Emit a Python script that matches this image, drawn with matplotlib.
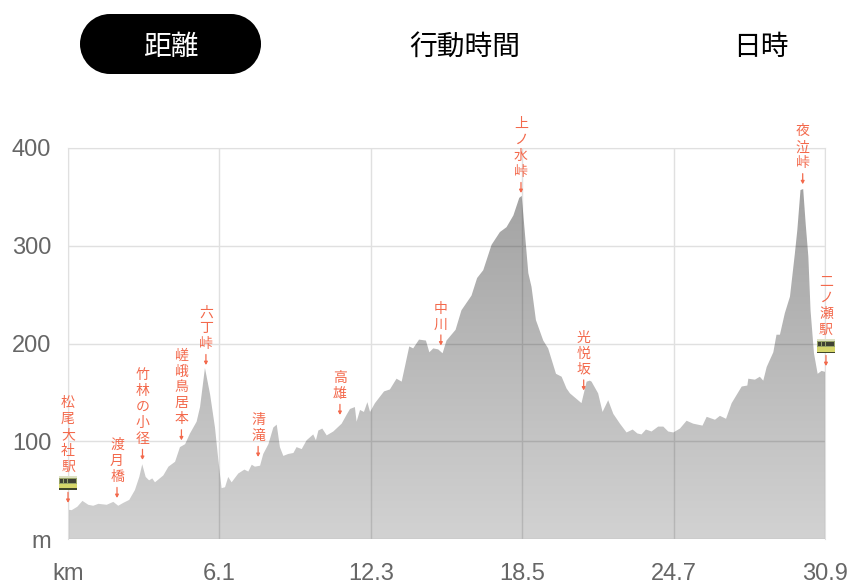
import numpy as np
import matplotlib
matplotlib.use("Agg")
import matplotlib.pyplot as plt
from matplotlib.patches import Rectangle, Circle, FancyBboxPatch
from matplotlib.offsetbox import AnnotationBbox, DrawingArea

distance_km = [0, .15, .38, .59, .83, 1.03, 1.24, 1.58, 1.85, 2.05, 2.26, 2.5, 2.73, 2.91, 3.03, 3.17, 3.31, 3.44,
               3.55, 3.89, 4.10, 4.37, 4.57, 4.78, 4.98, 5.25, 5.39, 5.59, 5.80, 6.0, 6.14, 6.27, 6.41, 6.54, 6.68,
               6.95, 7.2, 7.36, 7.5, 7.63, 7.84, 7.97, 8.18, 8.38, 8.52, 8.65, 8.79, 8.99, 9.2, 9.33, 9.54, 9.74,
               10.01, 10.12, 10.22, 10.38, 10.56, 10.83, 11.17, 11.37, 11.51, 11.71, 11.78, 11.92, 12.08, 12.22,
               12.33, 12.53, 12.9, 13.14, 13.41, 13.62, 13.75, 13.93, 14.09, 14.33, 14.61, 14.75, 14.91, 15.11,
               15.29, 15.45, 15.82, 16.06, 16.47, 16.7, 16.95, 17.29, 17.63, 17.9, 18.18, 18.42, 18.52, 18.65,
               18.79, 18.92, 19.1, 19.4, 19.6, 19.92, 20.15, 20.35, 20.49, 20.96, 21.17, 21.3, 21.37, 21.64, 21.82,
               22.05, 22.26, 22.53, 22.8, 23.05, 23.24, 23.41, 23.59, 23.82, 24.09, 24.3, 24.5, 24.71, 24.98, 25.25,
               25.52, 25.9, 26.07, 26.41, 26.61, 26.86, 27.09, 27.5, 27.73, 27.77, 28.04, 28.24, 28.38, 28.52,
               28.79, 28.92, 29.06, 29.26, 29.47, 29.67, 29.77, 29.9, 30.01, 30.11, 30.22, 30.31, 30.45, 30.6,
               30.76, 30.9]
elevation_m = [30, 29.5, 33, 39, 35, 34, 36, 35, 38, 34, 37, 40, 50, 63.5, 76.5, 63.5, 60, 62,
               58, 65, 74, 79, 94, 97, 108, 120, 135, 175, 148, 114, 80, 52, 53, 63.5, 58,
               67, 71, 69, 76, 74, 75, 87, 97, 114, 117, 94, 85, 87, 88, 94, 92, 101,
               107, 101, 111, 113, 106, 110, 118, 127, 133, 135, 120, 132, 130, 140,
               130, 139, 151, 153, 164, 161, 176, 197, 195, 204, 203, 191, 195, 194,
               190, 203, 214, 234, 249, 267, 275, 301, 314, 319, 331, 349, 351, 313,
               272, 258, 224, 203, 195, 169, 166, 154, 149, 139, 161, 162, 161, 149, 130,
               142, 128, 118, 109, 112, 108, 107, 112, 110, 115, 115, 110, 109, 113, 121,
               118, 116, 125, 122, 126, 123, 139, 156, 157, 164, 163, 166, 162, 176,
               191, 209, 209, 231, 248, 292, 316, 357, 358, 323, 289, 234, 190, 169,
               172, 171]

x_ticks = [0, 6.18, 12.36, 18.54, 24.72, 30.9]
x_tick_labels = ["km", "6.1", "12.3", "18.5", "24.7", "30.9"]
y_ticks = [0, 100, 200, 300, 400]
y_tick_labels = ["m", "100", "200", "300", "400"]

place_names = ["松尾大社駅", "渡月橋", "竹林の小径", "嵯峨鳥居本", "六丁峠", "清滝", "高雄", "中川", "上ノ水峠", "光悦坂", "夜泣峠", "二ノ瀬駅"]
place_km = [0, 2.0, 3.04, 4.63, 5.63, 7.76, 11.1, 15.22, 18.49, 21.05, 29.99, 30.94]
place_tip_m = [37, 42, 81, 101, 178, 84, 127, 198, 354, 152, 363, 177]
place_is_station = [True, False, False, False, False, False, False, False, False, False, False, True]

tabs = ["距離", "行動時間", "日時"]

RED = "#f3694c"
JP = ["Noto Sans CJK JP", "DejaVu Sans"]
W, H = 856, 588

fig = plt.figure(figsize=(W / 100, H / 100), dpi=100, facecolor="white")
ax = fig.add_axes([68 / W, (H - 539) / H, 757 / W, 391 / H])
ax.set_axisbelow(True)
ax.grid(True, color="#e0e0e0", lw=1)
for side in ("top", "left", "right"):
    ax.spines[side].set_color("#e0e0e0")
ax.spines["bottom"].set_visible(False)

poly = ax.fill_between(distance_km, elevation_m, 0, color="none", lw=0)
alpha = np.linspace(0.39, 0.18, 256)
rgba = np.zeros((256, 1, 4))
rgba[:, 0, 3] = alpha
im = ax.imshow(rgba, extent=[0, 30.9, 0, 400], origin="upper", aspect="auto", zorder=2, interpolation="bilinear")
im.set_clip_path(poly.get_paths()[0], transform=ax.transData)

ax.set_xlim(0, 30.9)
ax.set_ylim(0, 400)
ax.set_xticks(x_ticks, x_tick_labels)
ax.set_yticks(y_ticks, y_tick_labels)
ax.tick_params(length=0, labelcolor="#666666", labelsize=17)
ax.tick_params(axis="x", pad=17)
ax.tick_params(axis="y", pad=12)
for lab in ax.get_xticklabels() + ax.get_yticklabels():
    lab.set_family("Liberation Sans")


def train_icon():
    da = DrawingArea(13.5, 10.5, 0, 0, clip=False)
    da.add_artist(Rectangle((0, 0), 13.5, 1.2, fc="#40462a", lw=0))
    da.add_artist(Rectangle((0, 1.2), 13.5, 3.2, fc="#d6d66a", lw=0))
    da.add_artist(Rectangle((0, 4.4), 13.5, 4.4, fc="#98a468", lw=0))
    da.add_artist(Rectangle((0.6, 8.8), 12.3, 1.7, fc="#dfe2c4", lw=0))
    for i in range(4):
        da.add_artist(Rectangle((1.1 + i * 2.95, 5.0), 2.3, 3.0, fc="#3f4133", lw=0))
    return da


for name, km, tip, station in zip(place_names, place_km, place_tip_m, place_is_station):
    ax.annotate("", xy=(km, tip), xytext=(0, 10.5), textcoords="offset pixels", annotation_clip=False, zorder=5,
                arrowprops=dict(arrowstyle="-|>,head_length=0.18,head_width=0.1", color=RED, lw=0.9,
                                shrinkA=0, shrinkB=0))
    offset = 21
    if station:
        ab = AnnotationBbox(train_icon(), (km, tip), xybox=(0, 20), xycoords="data", boxcoords="offset pixels",
                            frameon=False, pad=0, annotation_clip=False, zorder=6)
        ax.add_artist(ab)
        offset = 36
    for i, ch in enumerate(reversed(name)):
        ax.annotate(ch, xy=(km, tip), xytext=(0, offset + i * 15.9), textcoords="offset pixels", ha="center",
                    va="center", color=RED, fontsize=10, family=JP, annotation_clip=False, zorder=6)

overlay = fig.add_axes([0, 0, 1, 1], facecolor="none")
overlay.set_xlim(0, W)
overlay.set_ylim(H, 0)
overlay.axis("off")
overlay.add_patch(Rectangle((110, 14), 121, 60, fc="black", ec="none"))
overlay.add_patch(Circle((110, 44), 30, fc="black", ec="none"))
overlay.add_patch(Circle((231, 44), 30, fc="black", ec="none"))
for label, cx, col in zip(tabs, [171, 465, 761], ["white", "black", "black"]):
    overlay.text(cx, 47, label, ha="center", va="center", color=col, fontsize=20, family=JP)

fig.savefig("out.png", dpi=100)
